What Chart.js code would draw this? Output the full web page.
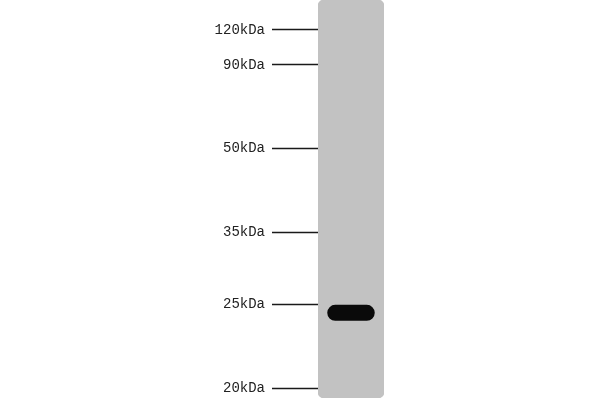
<!DOCTYPE html>
<html>
<head>
<meta charset="utf-8">
<script src="https://cdn.jsdelivr.net/npm/chart.js@4"></script>
<style>
  html, body { margin: 0; padding: 0; background: #fff; }
  #wrap { width: 600px; height: 400px; }
</style>
</head>
<body>
<div id="wrap"><canvas id="blot"></canvas></div>
<script>
// marker ladder, relative migration (0 = top of lane, 1 = bottom)
const markerLabels = ['120kDa', '90kDa', '50kDa', '35kDa', '25kDa', '20kDa'];
const markerRf = [0.075, 0.163, 0.372, 0.583, 0.764, 0.975];

// one lane, one band
const lanes = ['Lane 1'];
const laneRange = [[0, 1]];
const bandRange = [[0.766, 0.806]];

const ctx = document.getElementById('blot').getContext('2d');
new Chart(ctx, {
  type: 'bar',
  data: {
    labels: lanes,
    datasets: [
      {
        label: 'band',
        data: bandRange,
        backgroundColor: '#0a0a0a',
        borderRadius: 8,
        borderSkipped: false,
        grouped: false,
        barPercentage: 0.72,
        categoryPercentage: 1,
        order: 0,
      },
      {
        label: 'lane',
        data: laneRange,
        backgroundColor: '#c2c2c2',
        borderRadius: 6,
        borderSkipped: false,
        grouped: false,
        barPercentage: 1,
        categoryPercentage: 1,
        order: 1,
      },
    ],
  },
  options: {
    responsive: true,
    maintainAspectRatio: false,
    animation: false,
    layout: { padding: { left: 0, right: 216, top: 0, bottom: 2 } },
    plugins: { legend: { display: false }, tooltip: { enabled: false } },
    scales: {
      x: { display: false },
      y: {
        min: 0,
        max: 1,
        reverse: true,
        border: { display: false },
        grid: {
          drawOnChartArea: false,
          drawTicks: true,
          tickLength: 46,
          tickWidth: 1.5,
          tickColor: '#1a1a1a',
        },
        ticks: {
          autoSkip: false,
          padding: 7,
          color: '#222',
          font: { family: 'Liberation Mono', size: 14 },
          callback: (v) => {
            const i = markerRf.indexOf(v);
            return i >= 0 ? markerLabels[i] : '';
          },
        },
        afterBuildTicks: (scale) => {
          scale.ticks = markerRf.map((v) => ({ value: v }));
        },
        afterFit: (scale) => {
          scale.width = 318;
          scale.paddingTop = 0;
          scale.paddingBottom = 0;
        },
      },
    },
  },
});
</script>
</body>
</html>
